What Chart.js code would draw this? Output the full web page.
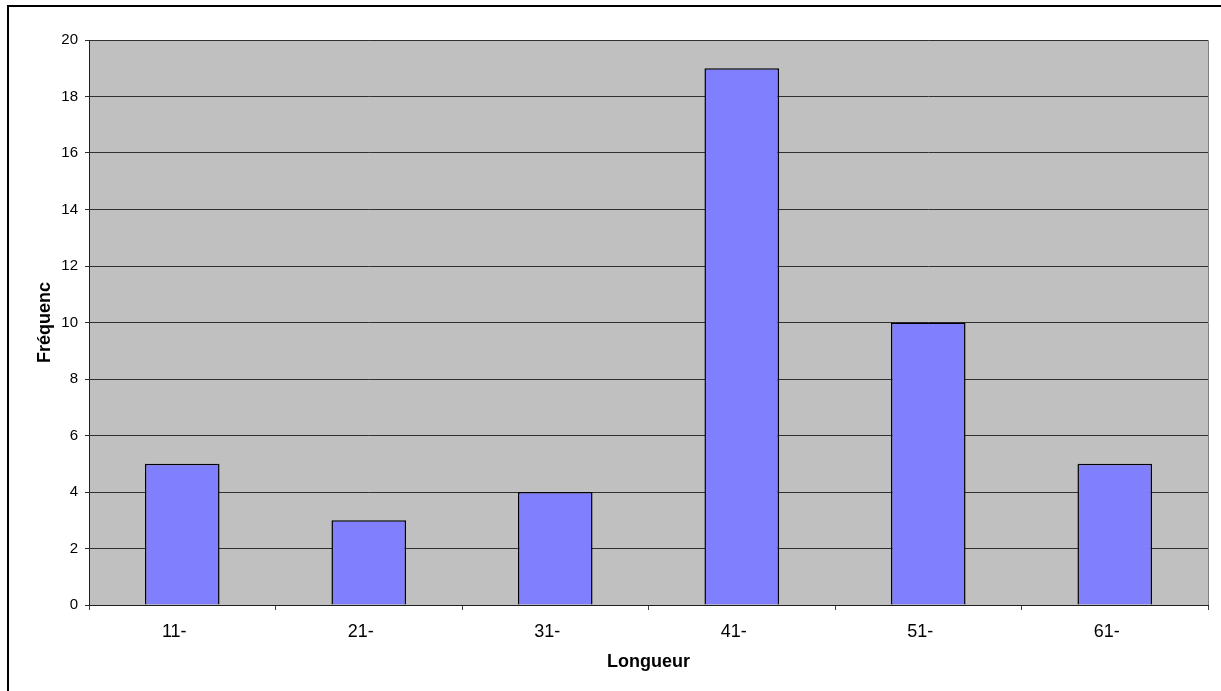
<!DOCTYPE html>
<html>
<head>
<meta charset="utf-8">
<script src="https://cdn.jsdelivr.net/npm/chart.js@4/dist/chart.umd.min.js"></script>
<style>
  html, body { margin: 0; padding: 0; background: #fff; overflow: hidden; }
  #wrap { position: relative; width: 1221px; height: 691px; }
  #frame { position: absolute; left: 7px; top: 5px; width: 1300px; height: 800px;
           border-left: 2.5px solid #000; border-top: 2.5px solid #000; box-sizing: border-box; pointer-events: none; }
  canvas { position: absolute; left: 0; top: 0; }
</style>
</head>
<body>
<div id="wrap">
  <canvas id="c" width="1221" height="691"></canvas>
  <div id="frame"></div>
</div>
<script>
const categories = ["11-", "21-", "31-", "41-", "51-", "61-"];
const frequencies = [5, 3, 4, 19, 10, 5];
const yTicks = [0, 2, 4, 6, 8, 10, 12, 14, 16, 18, 20];
const xTitle = "Longueur";
const yTitle = "Fréquenc";

const font = "'Liberation Sans', Arial, sans-serif";

const plotBg = {
  id: 'plotBg',
  beforeDraw(chart) {
    const { ctx, chartArea: a } = chart;
    ctx.save();
    ctx.fillStyle = '#C0C0C0';
    ctx.fillRect(a.left, a.top, a.right - a.left, a.bottom - a.top);
    ctx.strokeStyle = '#808080';
    ctx.lineWidth = 1;
    ctx.beginPath();
    ctx.moveTo(a.left, a.top + 0.5);
    ctx.lineTo(a.right + 0.5, a.top + 0.5);
    ctx.lineTo(a.right + 0.5, a.bottom);
    ctx.stroke();
    ctx.restore();
  }
};

new Chart(document.getElementById('c'), {
  type: 'bar',
  data: {
    labels: categories,
    datasets: [{
      data: frequencies,
      backgroundColor: '#8080FF',
      borderColor: '#000000',
      borderWidth: 1.5,
      barPercentage: 0.4,
      categoryPercentage: 1.0
    }]
  },
  options: {
    responsive: false,
    animation: false,
    devicePixelRatio: 1,
    layout: { padding: { left: 0, top: 40, right: 13, bottom: 0 } },
    plugins: { legend: { display: false }, tooltip: { enabled: false } },
    scales: {
      x: {
        afterFit(s) { s.height = 86; },
        grid: { offset: true, drawOnChartArea: false, drawTicks: true, tickLength: 5, color: '#404040', lineWidth: 1 },
        border: { display: true, color: '#202020', width: 1 },
        ticks: { color: '#000', padding: 11, labelOffset: -8, font: { family: font, size: 18 } },
        title: { display: true, text: xTitle, color: '#000', padding: { top: 0, bottom: 18 },
                 font: { family: font, size: 18, weight: 'bold' } }
      },
      y: {
        min: 0, max: 20,
        afterFit(s) { s.width = 89; },
        afterBuildTicks(s) { s.ticks = yTicks.map(v => ({ value: v })); },
        grid: { drawTicks: true, tickLength: 4, color: '#303030', lineWidth: 1 },
        border: { display: true, color: '#202020', width: 1 },
        ticks: { color: '#000', padding: 7, font: { family: font, size: 15 } },
        title: { display: true, text: yTitle, color: '#000', padding: { top: 34, bottom: 0 },
                 font: { family: font, size: 18, weight: 'bold' } }
      }
    }
  },
  plugins: [plotBg]
});
</script>
</body>
</html>
